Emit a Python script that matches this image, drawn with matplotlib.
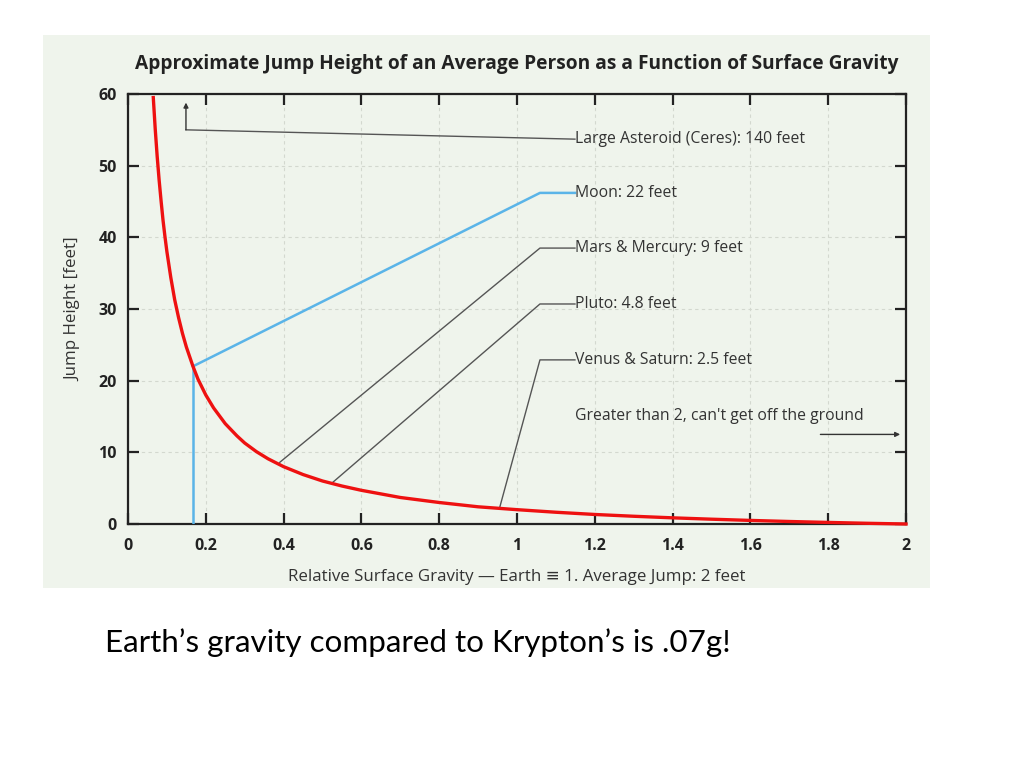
import matplotlib
matplotlib.use("Agg")
import matplotlib.pyplot as plt
from matplotlib.patches import Rectangle

# jump height curve
gravity = [0.065, 0.0675, 0.07, 0.075, 0.08, 0.085, 0.09, 0.095, 0.1, 0.11, 0.12,
           0.13, 0.14, 0.15, 0.167, 0.18, 0.2, 0.22, 0.25, 0.28, 0.3, 0.33,
           0.36, 0.4, 0.45, 0.5, 0.55, 0.6, 0.7, 0.8, 0.9, 1.0, 1.1, 1.2, 1.3,
           1.4, 1.5, 1.6, 1.7, 1.8, 1.9, 2.0]
height = [59.5, 57.3, 55.1, 51.3, 48.0, 45.1, 42.4, 40.1, 38.0, 34.4, 31.3,
          28.8, 26.6, 24.7, 22.0, 20.2, 18.0, 16.2, 14.0, 12.3, 11.3, 10.1,
          9.1, 8.0, 6.9, 6.0, 5.3, 4.7, 3.7, 3.0, 2.4, 2.0, 1.64, 1.33, 1.08,
          0.86, 0.67, 0.5, 0.35, 0.22, 0.1, 0.0]

# labels: text, point on curve, elbow of leader line
labels = ["Moon: 22 feet", "Mars & Mercury: 9 feet", "Pluto: 4.8 feet",
          "Venus & Saturn: 2.5 feet"]
label_pts = [(0.167, 22.0), (0.39, 8.6), (0.524, 5.7), (0.956, 2.4)]
label_elbow = [(1.059, 46.2), (1.059, 38.5), (1.059, 30.7), (1.059, 22.9)]
label_colors = ["#5ab4e8", "#555555", "#555555", "#555555"]
label_x = 1.149

xticks = [0, 0.2, 0.4, 0.6, 0.8, 1, 1.2, 1.4, 1.6, 1.8, 2]
xticklabels = ["0", "0.2", "0.4", "0.6", "0.8", "1", "1.2", "1.4", "1.6", "1.8", "2"]
yticks = [0, 10, 20, 30, 40, 50, 60]

plt.rcParams['font.family'] = ['Open Sans', 'DejaVu Sans']

fig = plt.figure(figsize=(10.24, 7.68), dpi=100)
fig.patch.set_facecolor('white')
panel = Rectangle((43/1024, 1-588/768), 887/1024, 553/768, transform=fig.transFigure,
                  facecolor='#eff4ec', edgecolor='none', zorder=-10)
fig.add_artist(panel)

ax = fig.add_axes([128/1024, 1-524/768, 778/1024, 430/768])
ax.set_facecolor('#eff4ec')
ax.set_xlim(0, 2)
ax.set_ylim(0, 60)

ax.grid(True, linestyle=(0, (3, 3)), color='#d3d8cf', linewidth=0.8)
ax.set_axisbelow(True)

# moon marker line
ax.plot([0.167, 0.167], [0, 22.0], color='#5ab4e8', lw=1.8, zorder=3)

for txt, p, e, c in zip(labels, label_pts, label_elbow, label_colors):
    ax.plot([p[0], e[0], label_x], [p[1], e[1], e[1]], color=c,
            lw=1.8 if c != '#555555' else 1.0, zorder=3)
    ax.text(label_x, e[1], txt, fontsize=11.3, va='center', ha='left', color='#333333')

# ceres
ax.plot([0.149, label_x], [55.0, 53.7], color='#555555', lw=1.0)
ax.annotate('', xy=(0.149, 58.8), xytext=(0.149, 55.0),
            arrowprops=dict(arrowstyle='-|>', color='#333333', lw=1.0,
                            mutation_scale=7, shrinkA=0, shrinkB=0))
ax.text(label_x, 53.7, "Large Asteroid (Ceres): 140 feet", fontsize=11.3,
        va='center', ha='left', color='#333333')

ax.text(label_x, 15.1, "Greater than 2, can't get off the ground", fontsize=11.3,
        va='center', ha='left', color='#333333')
ax.annotate('', xy=(1.985, 12.5), xytext=(1.78, 12.5),
            arrowprops=dict(arrowstyle='-|>', color='#333333', lw=1.0,
                            mutation_scale=7, shrinkA=0, shrinkB=0))

ax.plot(gravity, height, color='#ee1111', lw=2.4, zorder=4, clip_on=False)

ax.set_xticks(xticks)
ax.set_xticklabels(xticklabels, fontweight='bold', fontsize=11.5)
ax.set_yticks(yticks)
ax.set_yticklabels([str(v) for v in yticks], fontweight='bold', fontsize=11.5)
ax.tick_params(direction='in', length=8, width=1.6, top=True, right=True,
               colors='#222222')
ax.tick_params(axis='x', pad=10)
ax.tick_params(axis='y', pad=8)
for s in ax.spines.values():
    s.set_linewidth(1.6)
    s.set_color('#222222')

ax.set_title("Approximate Jump Height of an Average Person as a Function of Surface Gravity",
             fontweight='bold', fontsize=13.8, pad=18, color='#222222')
ax.set_xlabel("Relative Surface Gravity — Earth ≡ 1. Average Jump: 2 feet",
              fontsize=12.2, color='#333333', labelpad=11)
ax.set_ylabel("Jump Height [feet]", fontsize=12.2, color='#333333', labelpad=12)

fig.text(105/1024, 1-643/768, "Earth’s gravity compared to Krypton’s is .07g!",
         fontsize=22.6, family=['Lato', 'DejaVu Sans'], va='center', ha='left', color='black')

fig.savefig('out.png', dpi=100)
